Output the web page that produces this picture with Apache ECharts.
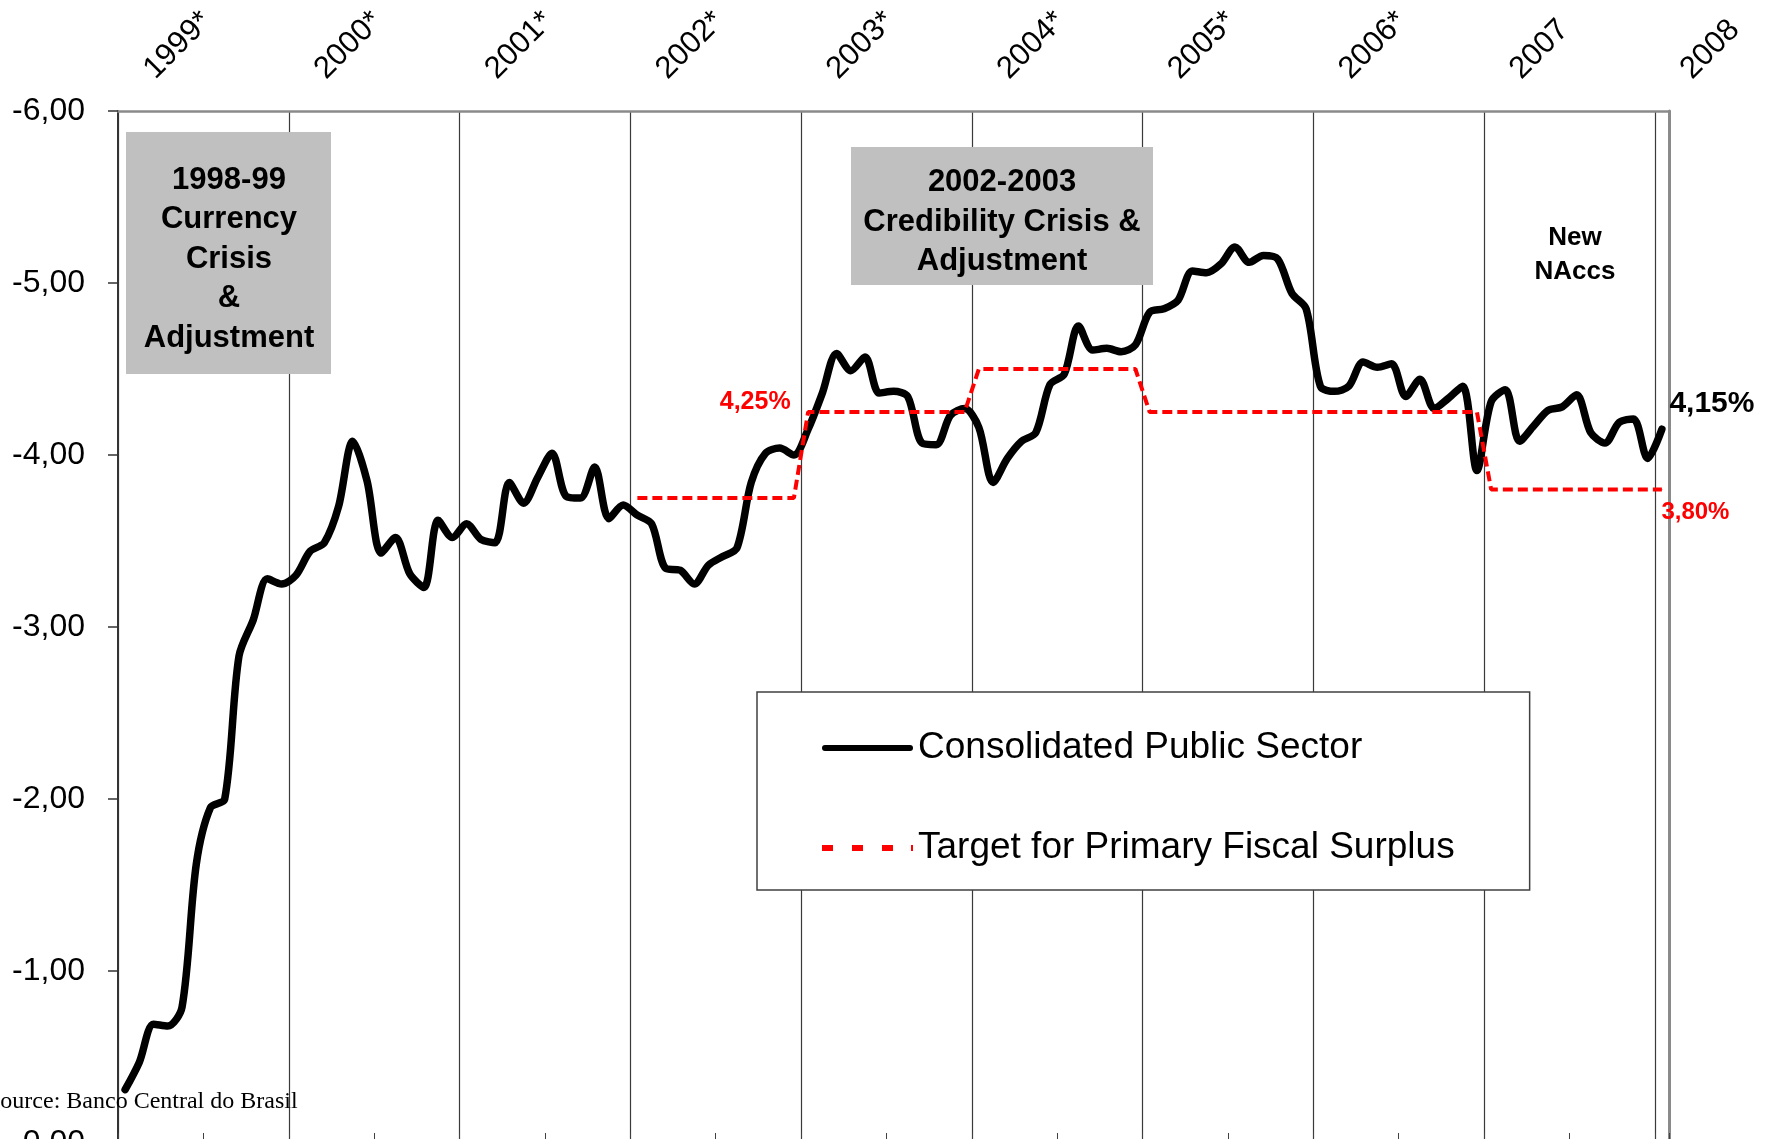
<!DOCTYPE html>
<html>
<head>
<meta charset="utf-8">
<script src="https://cdn.jsdelivr.net/npm/echarts@6/dist/echarts.min.js"></script>
<style>
  html, body { margin: 0; padding: 0; background: #ffffff; overflow: hidden; }
  #chart { width: 1773px; height: 1180px; }
</style>
</head>
<body>
<div id="chart"></div>
<script>
// Year labels along the top of the plot, one per 12 monthly points
const yearLabels = ['1999*', '2000*', '2001*', '2002*', '2003*', '2004*', '2005*', '2006*', '2007', '2008'];

// Primary surplus of the consolidated public sector, 12-month accumulated, % of GDP (plotted as negative)
const surplus1999 = [-0.31, -0.47, -0.69, -0.68, -0.79, -1.62, -1.95, -2.00, -2.83, -3.04, -3.28, -3.25];
const surplus2000 = [-3.30, -3.44, -3.49, -3.70, -4.08, -3.85, -3.43, -3.52, -3.31, -3.23, -3.62, -3.52];
const surplus2001 = [-3.60, -3.51, -3.49, -3.84, -3.72, -3.87, -4.01, -3.76, -3.75, -3.93, -3.63, -3.71];
const surplus2002 = [-3.65, -3.60, -3.34, -3.33, -3.25, -3.36, -3.41, -3.46, -3.84, -4.01, -4.04, -4.00];
const surplus2003 = [-4.15, -4.36, -4.59, -4.49, -4.57, -4.36, -4.37, -4.34, -4.07, -4.06, -4.23, -4.27];
const surplus2004 = [-4.16, -3.84, -3.98, -4.08, -4.13, -4.41, -4.47, -4.75, -4.61, -4.62, -4.60, -4.64];
const surplus2005 = [-4.83, -4.85, -4.90, -5.07, -5.06, -5.11, -5.21, -5.12, -5.16, -5.14, -4.94, -4.85];
const surplus2006 = [-4.40, -4.37, -4.40, -4.54, -4.51, -4.53, -4.34, -4.44, -4.27, -4.33, -4.40, -3.91];
const surplus2007 = [-4.31, -4.38, -4.08, -4.17, -4.26, -4.28, -4.35, -4.13, -4.07, -4.19, -4.21, -3.98];
const surplus2008 = [-4.15];

// Official primary surplus target for each year (no target drawn before 2002)
const targetByYear = [null, null, null, -3.75, -4.25, -4.50, -4.25, -4.25, -3.80, -3.80];

const seriesNames = ['Consolidated Public Sector', 'Target for Primary Fiscal Surplus'];

const surplus = [].concat(surplus1999, surplus2000, surplus2001, surplus2002, surplus2003,
                          surplus2004, surplus2005, surplus2006, surplus2007, surplus2008);
const monthCount = surplus.length;

const FONT = '"Liberation Sans", Arial, sans-serif';
const pct = v => Math.abs(v).toFixed(2).replace('.', ',') + '%';
const tickFmt = v => (v === 0 ? '0,00' : v.toFixed(2).replace('.', ','));

// Monthly points sit in the middle of their month slot
const surplusData = surplus.map((v, i) => {
  const item = { value: [i + 0.5, v] };
  if (i === monthCount - 1) {
    item.symbol = 'circle';
    item.symbolSize = 1;
    item.label = {
      show: true, position: 'right', distance: 7, offset: [0, -25],
      formatter: p => pct(p.value[1]),
      fontFamily: FONT, fontSize: 30, fontWeight: 'bold', color: '#000000'
    };
  }
  return item;
});

const targetData = [];
for (let i = 0; i < monthCount; i++) {
  const t = targetByYear[Math.floor(i / 12)];
  if (t === null) continue;
  const item = { value: [i + 0.5, t] };
  const prev = i > 0 ? targetByYear[Math.floor((i - 1) / 12)] : null;
  if (i % 12 === 0 && prev === -3.75 && t === -4.25) {
    // first month of the 2003 target
    item.symbol = 'circle';
    item.symbolSize = 1;
    item.label = {
      show: true, position: 'left', distance: 17, offset: [0, -10],
      formatter: p => pct(p.value[1]),
      fontFamily: FONT, fontSize: 25, fontWeight: 'bold', color: '#ff0000'
    };
  }
  if (i === monthCount - 1) {
    item.symbol = 'circle';
    item.symbolSize = 1;
    item.label = {
      show: true, position: 'right', distance: 0, offset: [-1, 23],
      formatter: p => pct(p.value[1]),
      fontFamily: FONT, fontSize: 24, fontWeight: 'bold', color: '#ff0000'
    };
  }
  targetData.push(item);
}

// Legend keys: a thick rounded stroke and a short dashed stroke
const solidKey = 'path://M3,0H88A3,3,0,0,1,88,6H3A3,3,0,0,1,3,0Z';
const dashedKey = 'path://M0,0H11V6H0Z M30,0H41V6H30Z M60,0H71V6H60Z M89,0H91V6H89Z';

const chart = echarts.init(document.getElementById('chart'), null, { renderer: 'canvas' });

chart.setOption({
  animation: false,
  backgroundColor: '#ffffff',
  grid: { left: 118, right: 104, top: 111, bottom: 37, containLabel: false },
  xAxis: [
    {
      type: 'value', position: 'bottom', min: 0, max: monthCount, interval: 12,
      axisLine: { show: true, onZero: false, lineStyle: { color: '#808080', width: 2 } },
      axisTick: { show: true, inside: true, length: 10, lineStyle: { color: '#404040' } },
      minorTick: { show: true, splitNumber: 2, length: 10, lineStyle: { color: '#404040' } },
      axisLabel: { show: false },
      splitLine: { show: true, lineStyle: { color: '#3a3a3a', width: 1.2 } }
    },
    {
      type: 'value', position: 'top', min: 0, max: monthCount, interval: 12,
      axisLine: { show: true, onZero: false, lineStyle: { color: '#8a8a8a', width: 2.5 } },
      axisTick: { show: false },
      splitLine: { show: false },
      axisLabel: {
        rotate: -45, margin: 6, padding: [0, 0, 0, 44],
        fontFamily: FONT, fontSize: 31, color: '#000000',
        showMinLabel: true, showMaxLabel: true,
        formatter: v => (v % 12 === 0 && yearLabels[v / 12] !== undefined ? yearLabels[v / 12] : '')
      }
    }
  ],
  yAxis: [
    {
      type: 'value', position: 'left', inverse: true, min: -6, max: 0, interval: 1,
      axisLine: { show: true, onZero: false, lineStyle: { color: '#333333', width: 2 } },
      axisTick: { show: true, length: 10, lineStyle: { color: '#333333', width: 1.5 } },
      axisLabel: { margin: 33, fontFamily: FONT, fontSize: 32, color: '#000000', formatter: tickFmt },
      splitLine: { show: false }
    },
    {
      type: 'value', position: 'right', inverse: true, min: -6, max: 0, interval: 1,
      axisLine: { show: true, onZero: false, lineStyle: { color: '#8a8a8a', width: 3 } },
      axisTick: { show: false },
      axisLabel: { show: false },
      splitLine: { show: false }
    }
  ],
  legend: {
    orient: 'vertical', left: 757, top: 692,
    padding: [34, 75, 20, 65],
    itemGap: 56, itemWidth: 91, itemHeight: 6, itemTextGap: 8,
    backgroundColor: '#ffffff', borderColor: '#404040', borderWidth: 1.5,
    selectedMode: false,
    textStyle: { fontFamily: FONT, fontSize: 37, color: '#000000', lineHeight: 44 },
    data: [
      { name: seriesNames[0], icon: solidKey, itemStyle: { color: '#000000' } },
      { name: seriesNames[1], icon: dashedKey, itemStyle: { color: '#ff0000' } }
    ]
  },
  series: [
    {
      name: seriesNames[0], type: 'line', xAxisIndex: 0, yAxisIndex: 0,
      data: surplusData, symbol: 'none', smooth: 0.3, z: 3,
      itemStyle: { color: '#000000' },
      lineStyle: { color: '#000000', width: 7.5, cap: 'round', join: 'round' },
      emphasis: { disabled: true }
    },
    {
      name: seriesNames[1], type: 'line', xAxisIndex: 0, yAxisIndex: 0,
      data: targetData, symbol: 'none', smooth: false, z: 4,
      itemStyle: { color: '#ff0000' },
      lineStyle: { color: '#ff0000', width: 4, type: [10, 5] },
      emphasis: { disabled: true }
    }
  ],
  graphic: [
    { type: 'rect', z: 1, shape: { x: 126, y: 132, width: 205, height: 242 }, style: { fill: '#c0c0c0' } },
    {
      type: 'text', z: 2, x: 229, y: 259,
      style: {
        text: '1998-99\nCurrency\nCrisis\n&\nAdjustment', align: 'center', verticalAlign: 'middle',
        fontFamily: FONT, fontSize: 31, fontWeight: 'bold', lineHeight: 39.5, fill: '#000000'
      }
    },
    { type: 'rect', z: 1, shape: { x: 851, y: 147, width: 302, height: 138 }, style: { fill: '#c0c0c0' } },
    {
      type: 'text', z: 2, x: 1002, y: 222,
      style: {
        text: '2002-2003\nCredibility Crisis &\nAdjustment', align: 'center', verticalAlign: 'middle',
        fontFamily: FONT, fontSize: 31, fontWeight: 'bold', lineHeight: 39.5, fill: '#000000'
      }
    },
    {
      type: 'text', z: 2, x: 1575, y: 255,
      style: {
        text: 'New\nNAccs', align: 'center', verticalAlign: 'middle',
        fontFamily: FONT, fontSize: 26, fontWeight: 'bold', lineHeight: 34, fill: '#000000'
      }
    },
    {
      type: 'text', z: 100, x: -13, y: 1102,
      style: {
        text: 'Source: Banco Central do Brasil', align: 'left', verticalAlign: 'middle',
        fontFamily: '"Liberation Serif", "Times New Roman", serif', fontSize: 24, fill: '#000000'
      }
    }
  ]
});
</script>
</body>
</html>
